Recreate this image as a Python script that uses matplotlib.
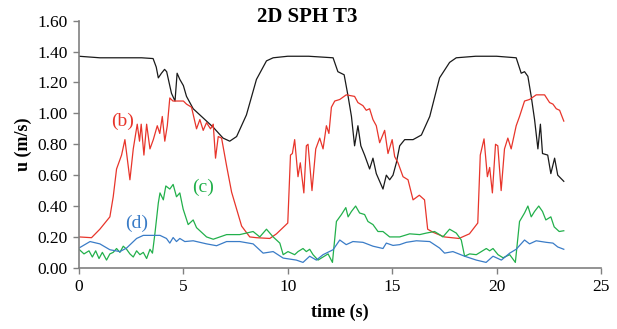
import matplotlib
matplotlib.use("Agg")
import matplotlib.pyplot as plt

plt.rcParams['font.family'] = ['Liberation Serif', 'DejaVu Serif']

# (t, u) samples
t_black = [0.0, 1.0, 2.0, 3.0, 3.55, 3.7, 3.8, 3.95, 4.1, 4.2, 4.43, 4.6, 4.7, 4.83, 5.0,
           5.15, 5.47, 5.95, 6.43, 6.9, 7.22, 7.55, 8.02, 8.5, 8.98, 9.3, 10.0, 11.0, 12.17,
           12.4, 12.55, 12.7, 12.89, 13.05, 13.2, 13.36, 13.5, 13.68, 13.92, 14.08, 14.24,
           14.56, 14.72, 14.88, 15.04, 15.2, 15.36, 15.6, 16.0, 16.4, 16.8, 17.27, 17.75,
           18.07, 19.0, 20.0, 20.94, 21.18, 21.34, 21.5, 21.66, 21.82, 21.98, 22.1, 22.2,
           22.45, 22.6, 22.78, 22.93, 23.22]
u_black = [1.37, 1.36, 1.36, 1.36, 1.355, 1.30, 1.23, 1.26, 1.285, 1.27, 1.13, 1.08, 1.26, 1.22, 1.18,
           1.11, 1.03, 0.97, 0.91, 0.84, 0.82, 0.85, 0.99, 1.22, 1.34, 1.36, 1.37, 1.37, 1.36,
           1.27, 1.26, 1.25, 1.11, 0.98, 0.79, 0.92, 0.79, 0.73, 0.64, 0.71, 0.61,
           0.51, 0.60, 0.57, 0.60, 0.68, 0.79, 0.83, 0.83, 0.86, 0.98, 1.23, 1.33,
           1.36, 1.37, 1.37, 1.36, 1.26, 1.27, 1.24, 1.11, 0.96, 0.77, 0.93, 0.74,
           0.73, 0.61, 0.71, 0.60, 0.56]

t_red = [0.0, 0.6, 1.0, 1.48, 1.64, 1.8, 2.04, 2.2, 2.44, 2.6, 2.79, 2.9, 2.98, 3.11, 3.24,
         3.4, 3.56, 3.75, 3.87, 3.99, 4.11, 4.23, 4.35, 4.5, 5.0, 5.15, 5.39, 5.63, 5.79,
         5.95, 6.11, 6.3, 6.43, 6.54, 6.67, 6.83, 7.07, 7.31, 7.55, 7.79, 8.18, 8.5, 9.14,
         9.46, 10.0, 10.13, 10.22, 10.33, 10.49, 10.6, 10.77, 10.89, 10.97, 11.16, 11.34,
         11.53, 11.69, 11.85, 11.97, 12.09, 12.25, 12.49, 12.8, 13.2, 13.36, 13.6, 13.76,
         13.92, 14.08, 14.24, 14.4, 14.64, 14.8, 15.0, 15.12, 15.28, 15.52, 15.76, 16.0,
         16.3, 16.55, 16.7, 16.96, 17.5, 18.2, 18.7, 19.1, 19.22, 19.4, 19.56, 19.67, 19.8,
         19.95, 20.06, 20.22, 20.38, 20.54, 20.7, 20.94, 21.1, 21.34, 21.58, 21.9, 22.3,
         22.54, 22.7, 22.86, 23.02, 23.22]
u_red = [0.20, 0.195, 0.25, 0.33, 0.46, 0.64, 0.73, 0.83, 0.57, 0.77, 0.93, 0.82, 0.93, 0.73, 0.93,
         0.77, 0.83, 0.92, 0.87, 0.98, 0.82, 0.92, 1.10, 1.08, 1.08, 1.06, 1.04, 0.90, 0.96,
         0.89, 0.94, 0.90, 0.93, 0.71, 0.85, 0.84, 0.66, 0.49, 0.38, 0.27, 0.20, 0.195, 0.19,
         0.22, 0.29, 0.73, 0.74, 0.83, 0.59, 0.68, 0.485, 0.79, 0.80, 0.50, 0.77,
         0.84, 0.77, 0.92, 0.87, 1.04, 1.08, 1.09, 1.12, 1.11, 1.07, 1.05, 1.02,
         1.03, 0.96, 0.92, 0.81, 0.89, 0.74, 0.83, 0.72, 0.68, 0.59, 0.57, 0.44,
         0.47, 0.44, 0.25, 0.23, 0.20, 0.19, 0.22, 0.29, 0.73, 0.835, 0.59, 0.65, 0.485,
         0.80, 0.79, 0.50, 0.77, 0.84, 0.77, 0.92, 0.98, 1.08, 1.09, 1.12, 1.12,
         1.07, 1.06, 1.03, 1.02, 0.95]

t_green = [0.0, 0.24, 0.48, 0.64, 0.8, 0.96, 1.12, 1.32, 1.48, 1.64, 1.8, 1.96, 2.12, 2.28, 2.44,
           2.6, 2.76, 2.92, 3.08, 3.24, 3.4, 3.52, 3.64, 3.8, 3.88, 4.04, 4.16, 4.35, 4.51,
           4.67, 4.83, 4.99, 5.23, 5.47, 5.63, 6.11, 6.43, 7.07, 7.7, 8.34, 8.66, 8.98, 9.3,
           9.62, 9.78, 10.01, 10.33, 10.49, 10.73, 10.89, 11.05, 11.21, 11.45, 11.69, 11.93,
           12.14, 12.33, 12.57, 12.78, 12.89, 13.05, 13.25, 13.44, 13.68, 13.84, 14.08, 14.32,
           14.56, 14.88, 15.36, 15.84, 16.32, 16.64, 17.03, 17.27, 17.43, 17.75, 18.07, 18.31,
           18.47, 18.71, 19.03, 19.27, 19.51, 19.67, 19.83, 20.07, 20.31, 20.63, 20.9, 21.1,
           21.34, 21.5, 21.66, 21.82, 22.02, 22.2, 22.36, 22.6, 22.76, 23.0, 23.22]
u_green = [0.12, 0.09, 0.11, 0.07, 0.11, 0.06, 0.10, 0.05, 0.09, 0.10, 0.125, 0.10, 0.14, 0.12, 0.09,
           0.07, 0.11, 0.085, 0.10, 0.06, 0.12, 0.095, 0.225, 0.42, 0.485, 0.44, 0.53, 0.51, 0.54,
           0.46, 0.485, 0.38, 0.28, 0.31, 0.26, 0.20, 0.185, 0.215, 0.215, 0.235, 0.20, 0.25, 0.20,
           0.16, 0.085, 0.105, 0.085, 0.105, 0.125, 0.105, 0.12, 0.085, 0.05, 0.07, 0.09,
           0.035, 0.30, 0.345, 0.39, 0.33, 0.365, 0.40, 0.355, 0.345, 0.30, 0.28, 0.235,
           0.235, 0.20, 0.20, 0.22, 0.215, 0.225, 0.235, 0.215, 0.20, 0.25, 0.225, 0.18,
           0.075, 0.09, 0.085, 0.105, 0.125, 0.11, 0.125, 0.085, 0.065, 0.085, 0.035, 0.30,
           0.355, 0.40, 0.33, 0.365, 0.40, 0.365, 0.31, 0.33, 0.265, 0.235, 0.24]

t_blue = [0.0, 0.53, 1.0, 1.48, 1.96, 2.28, 2.76, 3.08, 3.88, 4.19, 4.35, 4.51, 4.67, 4.83, 5.07,
          5.47, 6.11, 6.59, 7.07, 7.7, 8.34, 8.82, 9.3, 9.78, 10.41, 10.73, 11.05, 11.37, 11.69,
          12.17, 12.49, 12.8, 13.12, 13.6, 14.08, 14.56, 14.72, 15.04, 15.36, 15.68, 16.16,
          16.8, 17.27, 17.51, 17.91, 18.47, 19.03, 19.5, 19.83, 20.23, 20.63, 20.94, 21.34,
          21.58, 21.9, 22.38, 22.7, 22.93, 23.22]
u_blue = [0.128, 0.17, 0.155, 0.117, 0.105, 0.128, 0.19, 0.21, 0.21, 0.19, 0.16, 0.196, 0.17, 0.19, 0.17,
          0.175, 0.155, 0.143, 0.17, 0.17, 0.155, 0.095, 0.105, 0.063, 0.05, 0.035, 0.075, 0.05, 0.085,
          0.117, 0.18, 0.15, 0.17, 0.165, 0.14, 0.125, 0.16, 0.145, 0.15, 0.165, 0.175,
          0.17, 0.128, 0.095, 0.105, 0.075, 0.05, 0.035, 0.075, 0.05, 0.095, 0.12, 0.18,
          0.155, 0.175, 0.165, 0.16, 0.135, 0.12]

labels = ['(b)', '(c)', '(d)']
label_pos = [(2.1, 0.95), (5.95, 0.52), (2.75, 0.29)]

c_black = '#1a1a1a'
c_red = '#e8352b'
c_green = '#22b04b'
c_blue = '#3a7cc7'

fig = plt.figure(figsize=(6.17, 3.29), dpi=100)
ax = fig.add_axes([0.128, 0.186, 0.846, 0.751])

ax.plot(t_black, u_black, color=c_black, lw=0.9)
ax.plot(t_red, u_red, color=c_red, lw=0.9)
ax.plot(t_green, u_green, color=c_green, lw=0.9)
ax.plot(t_blue, u_blue, color=c_blue, lw=0.9)

for lab, (x, y), c in zip(labels, label_pos, [c_red, c_green, c_blue]):
    ax.text(x, y, lab, color=c, fontsize=14, ha='center', va='center')

ax.set_xlim(0, 25)
ax.set_ylim(0, 1.6)
ax.set_xticks([0, 5, 10, 15, 20, 25])
ax.set_yticks([0.0, 0.2, 0.4, 0.6, 0.8, 1.0, 1.2, 1.4, 1.6])
ax.set_yticklabels([f"{v:.2f}" for v in ax.get_yticks()])

for s in ['top', 'right']:
    ax.spines[s].set_visible(False)
for s in ['left', 'bottom']:
    ax.spines[s].set_color('#808080')
    ax.spines[s].set_linewidth(1.2)
ax.tick_params(direction='out', length=4.5, color='#808080', width=1.0, labelsize=12.5)

# title sits over the figure centre, slightly inside the top of the axes
fig.text(0.498, 0.948, "2D SPH T3", fontsize=15, fontweight='bold', ha='center', va='center')
ax.set_xlabel("time (s)", fontsize=13, fontweight='bold', labelpad=6)
ax.set_ylabel("u (m/s)", fontsize=13, fontweight='bold', labelpad=4)

fig.savefig("out.png", dpi=100)
